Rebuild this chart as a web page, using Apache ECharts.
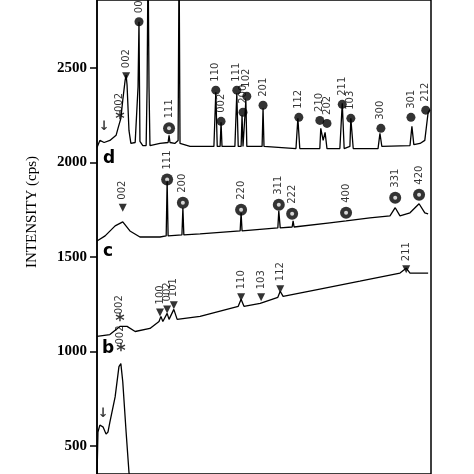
<!DOCTYPE html>
<html><head><meta charset="utf-8">
<script src="https://cdn.jsdelivr.net/npm/echarts@6/dist/echarts.min.js"></script>
<style>html,body{margin:0;background:#fff}#c{width:474px;height:474px}</style>
</head><body><div id="c"></div>
<script>
// 2theta (deg) vs intensity (cps)
const curveE = [[10.0,2080],[10.6,2117],[11.5,2106],[12.7,2117],[14.0,2144],[14.4,2181],[15.0,2234],[15.4,2330],[15.9,2436],[16.1,2463],[16.3,2410],[16.7,2170],[17.1,2101],[18.0,2106],[18.4,2112],[18.6,2400],[18.8,2745],[19.0,2112],[19.6,2090],[20.3,2090],[20.5,2400],[20.7,3100],[20.9,2400],[21.1,2090],[21.5,2095],[23.2,2101],[24.9,2106],[25.1,2144],[25.3,2106],[26.3,2101],[27.0,2117],[27.2,3100],[27.4,2101],[29.5,2085],[31.6,2085],[34.5,2085],[34.7,2080],[34.9,2372],[35.2,2085],[35.8,2085],[36.0,2213],[36.2,2085],[38.9,2085],[39.1,2080],[39.3,2367],[39.6,2085],[40.2,2085],[40.4,2250],[40.6,2085],[41.0,2090],[41.2,2330],[41.4,2085],[42.5,2085],[44.6,2085],[44.8,2287],[45.0,2085],[51.7,2074],[52.1,2234],[52.5,2074],[56.7,2074],[56.9,2181],[57.4,2117],[57.8,2160],[58.2,2074],[60.9,2074],[61.4,2314],[61.8,2074],[63.0,2085],[63.2,2234],[63.7,2074],[68.9,2074],[69.3,2154],[69.7,2085],[75.6,2090],[76.0,2191],[76.4,2095],[77.7,2101],[78.7,2117],[79.4,2266],[79.8,2280]]
const curveD = [[10.0,1585],[11.7,1612],[13.8,1665],[15.4,1686],[16.9,1638],[19.0,1606],[23.2,1606],[24.5,1612],[24.7,1904],[24.9,1612],[27.8,1617],[28.0,1761],[28.2,1617],[31.6,1622],[40.0,1638],[40.2,1734],[40.4,1638],[47.9,1654],[48.1,1745],[48.4,1654],[50.9,1659],[51.1,1691],[51.3,1659],[58.8,1681],[62.2,1691],[67.2,1707],[71.4,1718],[72.5,1761],[73.5,1718],[75.6,1734],[77.5,1782],[78.7,1734],[79.4,1729]]
const curveC = [[10.0,1080],[12.7,1090],[14.8,1133],[16.3,1133],[18.0,1106],[21.1,1122],[23.0,1159],[23.4,1186],[23.8,1159],[24.7,1202],[25.1,1170],[26.1,1223],[26.8,1170],[31.6,1186],[39.6,1239],[40.2,1276],[40.8,1239],[44.2,1255],[47.9,1287],[48.4,1319],[49.0,1292],[56.7,1330],[65.1,1372],[73.5,1415],[74.8,1441],[75.6,1415],[79.4,1415]]
const curveB = [[10.0,340],[10.2,574],[10.6,611],[11.3,600],[11.9,563],[12.3,574],[12.7,627],[13.8,760],[14.6,920],[15.0,936],[15.4,840],[16.1,574],[16.7,361],[17.1,300]]

// peak markers: [2theta, intensity, label, kind]
const marksE = [[11.5,2190,'↓','arrow'],[14.8,2230,'002','star'],[16.1,2457,'002','tri'],[18.8,2745,'001','dot'],[25.1,2181,'111','ring'],[34.9,2383,'110','dot'],[36.0,2218,'002','dot'],[39.3,2383,'111','dot'],[40.6,2266,'200','dot'],[41.4,2351,'102','dot'],[44.8,2303,'201','dot'],[52.3,2239,'112','dot'],[56.7,2223,'210','dot'],[58.2,2207,'202','dot'],[61.4,2308,'211','dot'],[63.2,2234,'103','dot'],[69.5,2181,'300','dot'],[75.8,2239,'301','dot'],[78.9,2277,'212','dot']]
const marksD = [[15.4,1761,'002','tri'],[24.7,1910,'111','ring'],[28.0,1787,'200','ring'],[40.2,1750,'220','ring'],[48.1,1777,'311','ring'],[50.9,1729,'222','ring'],[62.2,1734,'400','ring'],[72.5,1814,'331','ring'],[77.5,1830,'420','ring']]
const marksC = [[14.8,1160,'002','star'],[23.2,1207,'100','tri'],[24.7,1223,'002','tri'],[26.1,1245,'101','tri'],[40.2,1287,'110','tri'],[44.4,1287,'103','tri'],[48.4,1330,'112','tri'],[74.8,1436,'211','tri']]
const marksB = [[15.0,1000,'002','star'],[11.3,670,'↓','arrow']]
const yTicks = [500, 1000, 1500, 2000, 2500]

const allMarks = marksE.concat(marksD, marksC, marksB)
const lbl = {show: true, formatter: (p) => p.data[2], rotate: 90, position: 'top', align: 'left', verticalAlign: 'middle', distance: 4, fontSize: 10, fontFamily: 'DejaVu Sans', color: '#000'}
const flat = (txt, size) => ({show: true, formatter: txt, position: 'inside', fontSize: size, fontFamily: 'DejaVu Sans', fontWeight: 'bold', color: '#000'})
const byKind = (k) => allMarks.filter((m) => m[3] === k)
const line = (d) => ({type: 'line', data: d, showSymbol: false, lineStyle: {color: '#000', width: 1.3}, clip: true, silent: true})
const clear = {color: 'rgba(255,255,255,0)'}

const chart = echarts.init(document.getElementById('c'))
chart.setOption({
  animation: false,
  grid: {left: 97, right: 43, top: 0, bottom: 0, show: true, borderColor: '#000', borderWidth: 1.5},
  xAxis: {type: 'value', min: 10, max: 80, show: false},
  yAxis: {
    type: 'value', min: 352, max: 2860, splitLine: {show: false},
    axisLine: {show: true, lineStyle: {color: '#000', width: 1.5}},
    axisTick: {length: 7, customValues: yTicks, lineStyle: {color: '#000', width: 1.5}},
    axisLabel: {margin: 10, customValues: yTicks, formatter: (v) => String(v), fontFamily: 'Liberation Serif', fontWeight: 'bold', fontSize: 15, color: '#000'},
  },
  graphic: [
    {type: 'text', rotation: Math.PI / 2, x: 25, y: 268, style: {text: 'INTENSITY (cps)', font: '15px "Liberation Serif"', fill: '#000'}},
    {type: 'text', x: 103, y: 150, style: {text: 'd', font: 'bold 17px "DejaVu Sans"', fill: '#000'}},
    {type: 'text', x: 103, y: 243, style: {text: 'c', font: 'bold 17px "DejaVu Sans"', fill: '#000'}},
    {type: 'text', x: 102, y: 340, style: {text: 'b', font: 'bold 17px "DejaVu Sans"', fill: '#000'}},
  ],
  series: [
    line(curveE), line(curveD), line(curveC), line(curveB),
    {type: 'scatter', data: byKind('dot'), symbol: 'circle', symbolSize: 9, itemStyle: {color: '#000'}, label: lbl},
    {type: 'scatter', data: byKind('ring'), symbol: 'circle', symbolSize: 12, itemStyle: {color: '#000'}, label: lbl},
    {type: 'scatter', data: byKind('ring'), symbol: 'circle', symbolSize: 4, itemStyle: {color: '#fff'}},
    {type: 'scatter', data: byKind('tri'), symbol: 'triangle', symbolRotate: 180, symbolSize: 8, itemStyle: {color: '#000'}, label: lbl},
    {type: 'scatter', data: byKind('star'), symbol: 'circle', symbolSize: 10, itemStyle: clear, label: flat('*', 18)},
    {type: 'scatter', data: byKind('star'), symbol: 'circle', symbolSize: 10, itemStyle: clear, label: {...lbl, distance: 2}},
    {type: 'scatter', data: byKind('arrow'), symbol: 'circle', symbolSize: 10, itemStyle: clear, label: flat('↓', 13)},
  ],
})
</script></body></html>
